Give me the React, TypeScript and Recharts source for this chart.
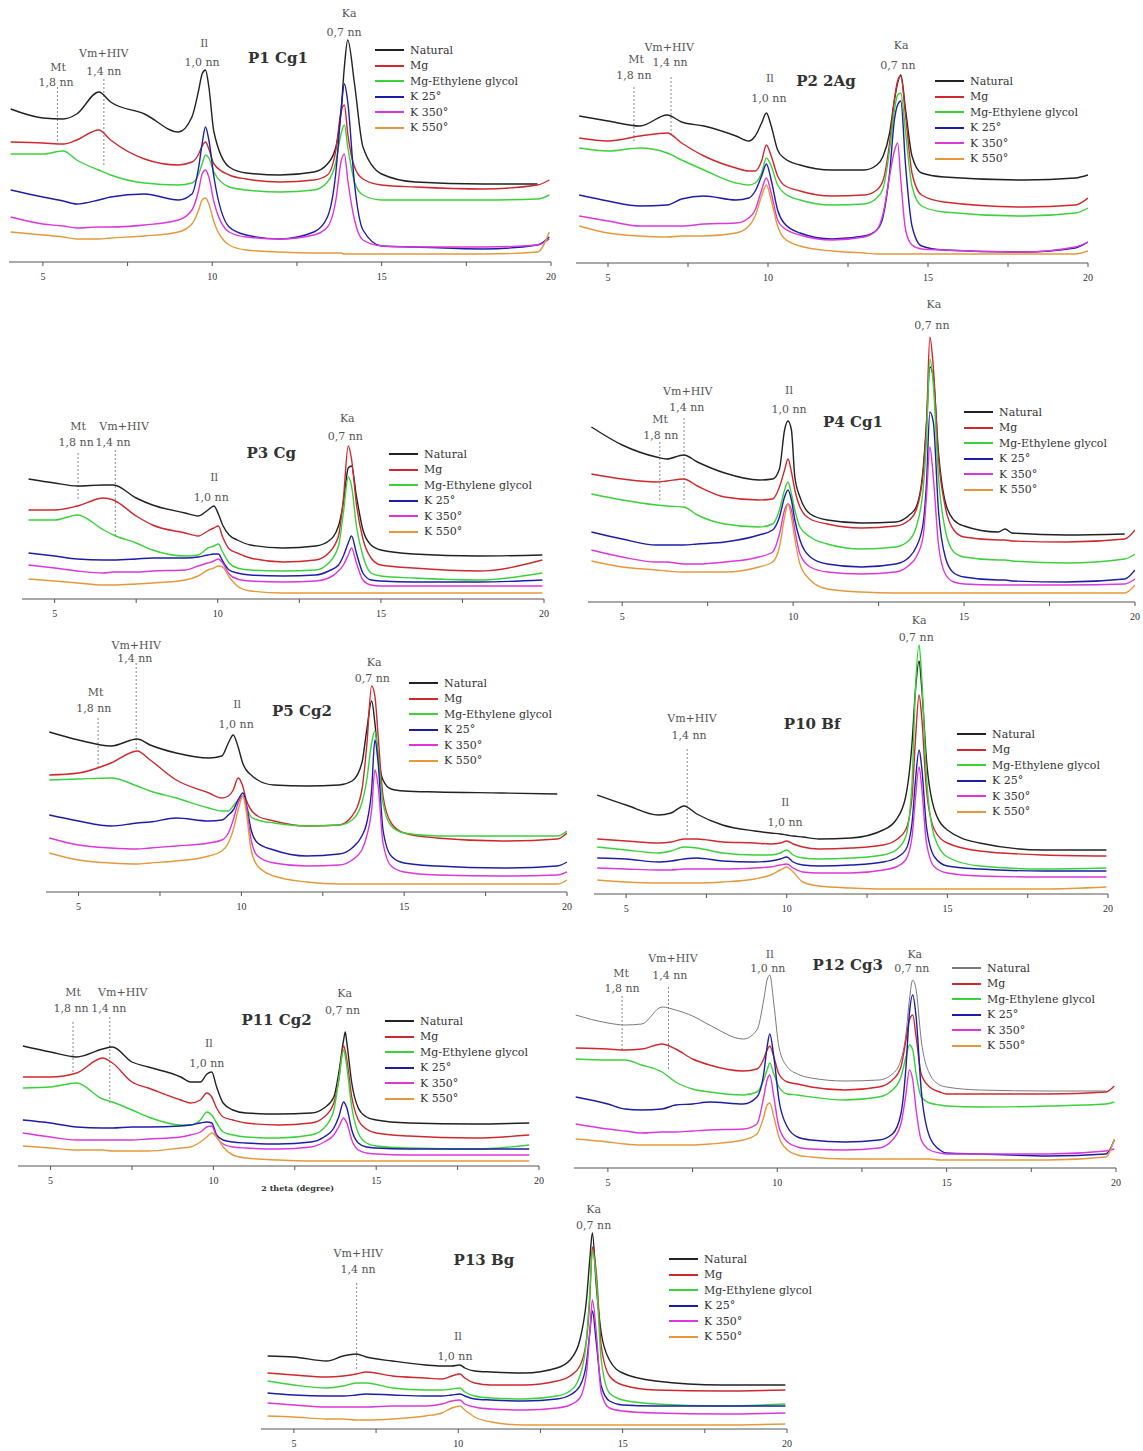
import React from "react";
import { LineChart, Line, XAxis, YAxis, ReferenceLine, ReferenceDot, Legend } from "recharts";

// Series order is the same in every panel
const SERIES_NAMES = ["Natural", "Mg", "Mg-Ethylene glycol", "K 25°", "K 350°", "K 550°"];
const SERIES_COLORS = ["#222222", "#d0282d", "#3ad23a", "#1d1da8", "#dc36dc", "#e5993c"];
const AXIS_TICKS = [5, 7.5, 10, 12.5, 15, 17.5, 20];
const FONT = '"DejaVu Serif", "Liberation Serif", serif';
const TICK_FONT = '"Liberation Serif", serif';

// Intensities are read as heights (px) above each panel's baseline

// P1 Cg1
const p1X = [4.05, 5, 5.6, 6, 6.65, 7, 8, 9, 9.4, 9.6, 9.7, 9.8, 9.9, 10.05, 10.5, 11, 12, 13, 13.4, 13.65, 13.8, 13.9, 14.0, 14.2, 14.45, 15, 16, 18, 19.6, 19.95];
const p1Natural = [153, 144, 143, 148, 170, 160, 148, 130, 145, 172, 188, 192, 175, 130, 95, 89, 87, 90, 98, 115, 150, 195, 222, 178, 115, 88, 80, 78, 78, null];
const p1Mg = [120, 119, 118, 122, 132, 122, 103, 97, 100, 108, 116, 120, 113, 98, 87, 83, 80, 82, 87, 112, 150, 157, 128, 95, 83, 77, 75, 73, 77, 82];
const p1MgEG = [108, 108, 111, 102, 92, 87, 79, 77, 79, 88, 98, 107, 104, 90, 75, 72, 70, 72, 80, 100, 128, 137, 115, 80, 67, 62, 62, 62, 63, 67];
const p1K25 = [72, 65, 61, 58, 62, 65, 68, 62, 68, 95, 118, 135, 122, 85, 35, 27, 23, 30, 45, 90, 150, 178, 160, 78, 32, 16, 15, 13, 17, 25];
const p1K350 = [45, 38, 36, 34, 35, 35, 37, 42, 52, 72, 88, 92, 85, 60, 30, 25, 23, 27, 35, 62, 100, 108, 82, 42, 22, 16, 15, 15, 17, 23];
const p1K550 = [30, 27, 25, 23, 23, 24, 26, 30, 38, 52, 62, 64, 58, 40, 17, 12, 10, 9, 9, 9, 9, 8, 8, 8, 8, 8, 8, 8, 10, 30];

// P2 2Ag
const p2X = [4.1, 5, 6, 6.85, 7.3, 8, 9, 9.4, 9.6, 9.8, 9.95, 10.1, 10.3, 10.5, 11, 12, 13, 13.4, 13.6, 13.8, 13.95, 14.05, 14.15, 14.3, 14.5, 14.8, 15.5, 18, 19.6, 20];
const p2Natural = [147, 142, 137, 148, 141, 137, 127, 122, 127, 140, 150, 137, 113, 105, 98, 93, 93, 98, 107, 130, 163, 180, 188, 153, 107, 90, 86, 83, 85, 88];
const p2Mg = [125, 122, 127, 130, 120, 107, 95, 92, 92, 102, 118, 107, 87, 78, 72, 67, 68, 73, 83, 120, 163, 182, 187, 147, 90, 68, 61, 56, 58, 65];
const p2MgEG = [115, 112, 115, 110, 103, 93, 80, 78, 80, 90, 105, 97, 78, 70, 63, 58, 59, 65, 75, 113, 153, 168, 170, 130, 77, 57, 51, 47, 50, 55];
const p2K25 = [68, 62, 57, 58, 64, 67, 63, 65, 72, 87, 99, 83, 53, 40, 30, 24, 27, 33, 47, 90, 143, 158, 162, 97, 37, 17, 13, 11, 15, 21];
const p2K350 = [47, 42, 37, 37, 37, 39, 40, 45, 53, 73, 85, 70, 43, 35, 28, 23, 26, 33, 50, 87, 112, 120, 83, 33, 18, 14, 13, 11, 16, 21];
const p2K550 = [37, 30, 27, 26, 27, 27, 30, 37, 47, 67, 78, 63, 37, 25, 17, 12, 10, 9, 9, 9, 9, 9, 9, 9, 9, 9, 9, 9, 9, 12];

// P3 Cg
const p3X = [4.2, 5, 5.7, 6.5, 6.8, 7.5, 8, 9, 9.4, 9.7, 9.88, 10.02, 10.15, 10.35, 10.6, 11, 12, 13, 13.4, 13.7, 13.85, 14.0, 14.1, 14.25, 14.45, 14.7, 15, 16, 18, 19.95];
const p3Natural = [120, 116, 113, 114, 114, 101, 94, 86, 83, 89, 93, 85, 74, 64, 59, 54, 51, 53, 58, 73, 96, 131, 133, 103, 69, 54, 49, 45, 43, 44];
const p3Mg = [89, 89, 93, 101, 99, 83, 74, 66, 63, 68, 71, 73, 62, 50, 46, 41, 37, 39, 46, 63, 100, 153, 140, 95, 60, 41, 34, 31, 28, 39];
const p3MgEG = [79, 79, 84, 69, 64, 56, 49, 43, 44, 51, 53, 55, 47, 36, 31, 29, 28, 29, 36, 53, 86, 122, 113, 73, 43, 26, 23, 21, 19, 26];
const p3K25 = [46, 43, 40, 39, 39, 40, 41, 41, 42, 44, 45, 45, 38, 29, 26, 24, 23, 24, 28, 34, 43, 56, 63, 46, 26, 19, 18, 17, 17, 19];
const p3K350 = [34, 31, 28, 26, 27, 27, 28, 29, 33, 36, 38, 40, 36, 25, 20, 18, 17, 18, 21, 28, 34, 44, 51, 36, 19, 14, 13, 13, 13, 13];
const p3K550 = [20, 18, 16, 14, 14, 15, 16, 19, 23, 29, 31, 33, 32, 22, 13, 8, 6, 6, 6, 6, 6, 6, 6, 6, 6, 6, 6, 6, 6, 6];

// P4 Cg1
const p4X = [4.1, 5, 6, 6.3, 6.8, 7.2, 8, 9, 9.4, 9.6, 9.75, 9.85, 9.95, 10.05, 10.2, 10.5, 11, 12, 13, 13.4, 13.6, 13.8, 13.9, 14.0, 14.1, 14.25, 14.45, 14.7, 15, 16, 16.2, 16.4, 18, 19.7, 20];
const p4Natural = [175, 157, 145, 143, 147, 140, 129, 122, 123, 133, 172, 181, 172, 125, 105, 88, 82, 79, 80, 87, 95, 132, 178, 235, 225, 150, 100, 82, 76, 70, 73, 69, 67, 68, null];
const p4Mg = [128, 123, 120, 121, 123, 116, 105, 102, 103, 115, 132, 143, 130, 112, 95, 83, 78, 74, 76, 82, 92, 128, 178, 265, 235, 145, 95, 72, 65, 62, 62, 61, 60, 63, 72];
const p4MgEG = [108, 102, 97, 96, 95, 87, 78, 75, 78, 92, 112, 120, 108, 92, 75, 65, 58, 53, 55, 62, 75, 112, 162, 243, 218, 125, 72, 50, 45, 42, 42, 41, 39, 43, 48];
const p4K25 = [70, 63, 57, 57, 57, 58, 60, 67, 72, 85, 105, 112, 102, 82, 62, 45, 38, 35, 38, 45, 55, 78, 118, 190, 180, 92, 45, 29, 25, 22, 22, 21, 20, 23, 32];
const p4K350 = [52, 45, 40, 40, 38, 38, 40, 45, 50, 68, 92, 98, 92, 72, 48, 35, 30, 28, 30, 37, 45, 65, 105, 155, 125, 58, 28, 20, 18, 17, 17, 17, 17, 18, 23];
const p4K550 = [41, 35, 32, 31, 30, 30, 30, 35, 40, 55, 85, 98, 85, 63, 38, 22, 13, 10, 9, 9, 9, 9, 9, 9, 9, 9, 9, 9, 9, 9, 9, 9, 9, 9, 17];

// P5 Cg2
const p5X = [4.1, 5, 6, 6.8, 7.2, 8, 9, 9.4, 9.6, 9.75, 9.9, 10.05, 10.15, 10.3, 10.5, 11, 12, 13, 13.4, 13.7, 13.85, 14.0, 14.1, 14.2, 14.35, 14.6, 15, 16, 18, 19.7, 20];
const p5Natural = [160, 152, 146, 153, 147, 139, 134, 136, 149, 157, 145, 128, 122, 117, 112, 107, 106, 107, 111, 129, 162, 191, 169, 136, 112, 103, 101, 100, 99, 98, null];
const p5Mg = [117, 119, 129, 141, 132, 112, 99, 94, 96, 102, 114, 105, 92, 82, 76, 71, 66, 67, 76, 102, 146, 206, 196, 156, 96, 69, 59, 54, 51, 53, 59];
const p5MgEG = [112, 113, 114, 106, 101, 94, 84, 81, 81, 86, 92, 96, 86, 75, 72, 69, 66, 67, 72, 89, 112, 149, 161, 136, 89, 66, 59, 56, 56, 56, 61];
const p5K25 = [77, 71, 66, 69, 70, 74, 71, 72, 77, 82, 92, 99, 88, 62, 49, 42, 36, 38, 44, 56, 69, 102, 152, 129, 62, 36, 29, 26, 24, 26, 30];
const p5K350 = [54, 47, 44, 43, 44, 46, 49, 52, 59, 72, 89, 96, 86, 52, 36, 29, 26, 27, 32, 42, 56, 82, 122, 106, 49, 26, 20, 17, 16, 17, 20];
const p5K550 = [39, 32, 29, 28, 29, 31, 36, 41, 49, 62, 82, 96, 80, 42, 26, 16, 10, 8, 8, 8, 8, 8, 8, 8, 8, 8, 8, 8, 8, 8, 12];

// P10 Bf
const p10X = [4.1, 5, 6, 6.4, 6.8, 7.2, 8, 9, 9.5, 9.8, 10.0, 10.2, 10.5, 11, 12, 13, 13.4, 13.7, 13.9, 14.0, 14.12, 14.2, 14.35, 14.6, 15, 16, 18, 19.95];
const p10Natural = [99, 89, 79, 81, 88, 80, 69, 63, 61, 60, 59, 58, 57, 55, 56, 64, 74, 97, 151, 201, 233, 207, 134, 84, 64, 51, 44, 44];
const p10Mg = [55, 53, 51, 52, 55, 55, 52, 51, 50, 51, 53, 50, 47, 45, 46, 49, 54, 64, 97, 151, 199, 177, 104, 64, 51, 43, 39, 38];
const p10MgEG = [47, 44, 41, 43, 47, 46, 41, 39, 39, 41, 44, 39, 36, 35, 36, 39, 44, 57, 111, 201, 249, 217, 117, 57, 37, 28, 25, 26];
const p10K25 = [36, 35, 32, 33, 35, 36, 33, 32, 33, 35, 37, 32, 29, 28, 29, 32, 36, 44, 71, 111, 144, 127, 67, 37, 28, 25, 23, 23];
const p10K350 = [26, 25, 24, 24, 25, 25, 25, 26, 27, 29, 30, 26, 22, 21, 21, 24, 27, 34, 57, 94, 127, 107, 51, 27, 21, 18, 17, 17];
const p10K550 = [14, 12, 11, 11, 11, 11, 12, 15, 19, 24, 27, 22, 12, 8, 6, 5, 5, 5, 5, 5, 5, 5, 5, 5, 5, 5, 5, 7];

// P11 Cg2
const p11X = [4.15, 5, 5.8, 6.6, 6.9, 7.5, 8, 9, 9.3, 9.6, 9.8, 9.95, 10.1, 10.3, 10.6, 11, 12, 13, 13.4, 13.7, 13.85, 14.0, 14.05, 14.1, 14.25, 14.45, 14.7, 15, 16, 18, 19.7];
const p11Natural = [120, 114, 109, 117, 119, 104, 99, 89, 84, 84, 92, 94, 79, 63, 56, 53, 52, 53, 58, 69, 93, 126, 134, 123, 83, 58, 49, 46, 43, 42, 43];
const p11Mg = [89, 89, 93, 108, 103, 84, 78, 66, 63, 66, 73, 69, 58, 49, 46, 43, 41, 43, 49, 63, 86, 120, 115, 106, 69, 46, 37, 33, 30, 28, 31];
const p11MgEG = [78, 79, 83, 67, 64, 56, 49, 41, 41, 46, 54, 51, 43, 34, 31, 29, 28, 31, 38, 56, 86, 116, 110, 99, 59, 33, 23, 20, 18, 17, 21];
const p11K25 = [46, 43, 39, 38, 38, 39, 39, 40, 41, 43, 44, 43, 31, 26, 24, 23, 22, 24, 29, 38, 49, 64, 62, 58, 36, 23, 19, 18, 17, 17, 17];
const p11K350 = [33, 29, 26, 26, 26, 26, 27, 29, 31, 34, 39, 40, 29, 22, 19, 18, 17, 19, 24, 31, 39, 48, 46, 43, 26, 16, 13, 12, 11, 11, 11];
const p11K550 = [20, 18, 16, 16, 15, 15, 15, 18, 19, 24, 29, 33, 29, 19, 11, 8, 6, 5, 5, 5, 5, 5, 5, 5, 5, 5, 5, 5, 5, 5, 5];

// P12 Cg3
const p12X = [4.05, 5, 5.5, 6, 6.6, 7, 7.5, 8, 9, 9.4, 9.6, 9.7, 9.78, 9.9, 10.05, 10.3, 10.6, 11, 12, 13, 13.4, 13.65, 13.8, 13.9, 14.0, 14.1, 14.25, 14.5, 14.8, 15, 16, 18, 19.7, 19.95];
const p12Natural = [153, 145, 143, 144, 161, 158, 152, 143, 129, 138, 168, 188, 193, 164, 121, 101, 94, 90, 87, 88, 94, 108, 134, 168, 188, 178, 128, 94, 83, 81, 78, 77, 77, null];
const p12Mg = [120, 119, 118, 119, 124, 119, 109, 103, 97, 99, 109, 118, 122, 111, 94, 86, 84, 81, 78, 81, 88, 101, 128, 148, 153, 131, 94, 81, 76, 74, 74, 74, 76, 82];
const p12MgEG = [109, 108, 108, 103, 96, 86, 79, 76, 73, 76, 88, 98, 105, 94, 81, 74, 73, 71, 68, 71, 78, 91, 111, 123, 118, 94, 71, 65, 63, 62, 61, 62, 64, 66];
const p12K25 = [71, 64, 59, 58, 59, 63, 64, 66, 64, 71, 94, 121, 134, 111, 68, 41, 31, 28, 26, 28, 34, 54, 101, 154, 173, 151, 78, 31, 18, 15, 14, 12, 14, 28];
const p12K350 = [44, 39, 37, 35, 36, 36, 37, 38, 39, 44, 71, 88, 93, 71, 41, 26, 21, 19, 18, 20, 28, 44, 74, 98, 88, 58, 28, 18, 15, 14, 14, 14, 17, 19];
const p12K550 = [29, 26, 24, 23, 23, 23, 23, 24, 28, 34, 51, 63, 65, 51, 31, 18, 13, 11, 9, 9, 9, 9, 9, 9, 9, 9, 9, 9, 8, 8, 8, 8, 11, 29];

// P13 Bg
const p13X = [4.2, 5, 6, 6.5, 6.9, 7.2, 8, 9, 9.5, 9.8, 10.05, 10.2, 10.5, 11, 12, 13, 13.4, 13.7, 13.9, 14.0, 14.08, 14.2, 14.35, 14.6, 15, 16, 18, 19.95];
const p13Natural = [73, 72, 68, 73, 75, 72, 68, 64, 63, 63, 64, 61, 58, 57, 56, 61, 69, 89, 129, 169, 196, 143, 96, 69, 56, 48, 44, 44];
const p13Mg = [56, 54, 52, 53, 55, 57, 53, 51, 50, 53, 55, 51, 46, 44, 44, 48, 53, 63, 89, 129, 182, 156, 83, 53, 44, 39, 38, 39];
const p13MgEG = [48, 44, 41, 43, 46, 46, 41, 39, 39, 40, 41, 37, 33, 31, 30, 33, 38, 53, 89, 136, 178, 149, 69, 36, 29, 25, 23, 25];
const p13K25 = [36, 34, 33, 33, 34, 35, 34, 33, 33, 34, 35, 33, 30, 29, 28, 30, 34, 43, 66, 96, 118, 86, 43, 28, 24, 23, 23, 23];
const p13K350 = [26, 24, 22, 22, 22, 22, 23, 23, 25, 28, 29, 25, 22, 20, 19, 21, 24, 31, 56, 96, 129, 96, 36, 21, 18, 16, 15, 16];
const p13K550 = [13, 12, 10, 10, 9, 9, 10, 13, 16, 21, 23, 19, 12, 7, 4, 4, 4, 4, 4, 4, 4, 4, 4, 4, 4, 4, 4, 5];

type Note = { x: number; y: number; text: string };
type Guide = { x: number; y1: number; y2: number };
type PanelDef = {
  title: string;
  titleAt: [number, number];
  x: number[];
  series: (number | null)[][];
  x4: number;
  x20: number;
  axisY: number;
  topY: number;
  legendX: number;
  legendY: number;
  notes: Note[];
  guides: Guide[];
  naturalColor?: string;
  xTitle?: Note;
};

const PANELS: PanelDef[] = [
  {
    title: "P1 Cg1", titleAt: [11.94, 204], x: p1X,
    series: [p1Natural, p1Mg, p1MgEG, p1K25, p1K350, p1K550],
    x4: 9, x20: 551, axisY: 262, topY: 0, legendX: 375, legendY: 50,
    notes: [
      { x: 5.45, y: 195, text: "Mt" }, { x: 5.39, y: 180, text: "1,8 nn" },
      { x: 6.8, y: 209, text: "Vm+HIV" }, { x: 6.8, y: 191, text: "1,4 nn" },
      { x: 9.76, y: 219, text: "Il" }, { x: 9.7, y: 200, text: "1,0 nn" },
      { x: 14.04, y: 249, text: "Ka" }, { x: 13.89, y: 230, text: "0,7 nn" },
    ],
    guides: [{ x: 5.43, y1: 175, y2: 119 }, { x: 6.8, y1: 183, y2: 96 }],
  },
  {
    title: "P2 2Ag", titleAt: [11.81, 182], x: p2X,
    series: [p2Natural, p2Mg, p2MgEG, p2K25, p2K350, p2K550],
    x4: 576, x20: 1088, axisY: 263, topY: 20, legendX: 935, legendY: 81,
    notes: [
      { x: 5.88, y: 204, text: "Mt" }, { x: 5.81, y: 188, text: "1,8 nn" },
      { x: 6.91, y: 216, text: "Vm+HIV" }, { x: 6.94, y: 201, text: "1,4 nn" },
      { x: 10.06, y: 185, text: "Il" }, { x: 10.03, y: 165, text: "1,0 nn" },
      { x: 14.16, y: 218, text: "Ka" }, { x: 14.06, y: 198, text: "0,7 nn" },
    ],
    guides: [{ x: 5.81, y1: 176, y2: 120 }, { x: 6.97, y1: 186, y2: 128 }],
  },
  {
    title: "P3 Cg", titleAt: [11.64, 146], x: p3X,
    series: [p3Natural, p3Mg, p3MgEG, p3K25, p3K350, p3K550],
    x4: 22, x20: 544, axisY: 599, topY: 400, legendX: 389, legendY: 454,
    notes: [
      { x: 5.72, y: 173, text: "Mt" }, { x: 5.66, y: 157, text: "1,8 nn" },
      { x: 7.13, y: 173, text: "Vm+HIV" }, { x: 6.79, y: 157, text: "1,4 nn" },
      { x: 9.89, y: 122, text: "Il" }, { x: 9.8, y: 102, text: "1,0 nn" },
      { x: 13.97, y: 181, text: "Ka" }, { x: 13.91, y: 163, text: "0,7 nn" },
    ],
    guides: [{ x: 5.72, y1: 146, y2: 99 }, { x: 6.86, y1: 149, y2: 62 }],
  },
  {
    title: "P4 Cg1", titleAt: [11.75, 180], x: p4X,
    series: [p4Natural, p4Mg, p4MgEG, p4K25, p4K350, p4K550],
    x4: 588, x20: 1135, axisY: 602, topY: 290, legendX: 964, legendY: 412,
    notes: [
      { x: 6.11, y: 183, text: "Mt" }, { x: 6.13, y: 167, text: "1,8 nn" },
      { x: 6.92, y: 211, text: "Vm+HIV" }, { x: 6.89, y: 195, text: "1,4 nn" },
      { x: 9.88, y: 212, text: "Il" }, { x: 9.88, y: 193, text: "1,0 nn" },
      { x: 14.12, y: 298, text: "Ka" }, { x: 14.06, y: 277, text: "0,7 nn" },
    ],
    guides: [{ x: 6.1, y1: 160, y2: 100 }, { x: 6.81, y1: 184, y2: 99 }],
  },
  {
    title: "P5 Cg2", titleAt: [11.86, 181], x: p5X,
    series: [p5Natural, p5Mg, p5MgEG, p5K25, p5K350, p5K550],
    x4: 46, x20: 567, axisY: 892, topY: 630, legendX: 409, legendY: 683,
    notes: [
      { x: 5.52, y: 200, text: "Mt" }, { x: 5.47, y: 184, text: "1,8 nn" },
      { x: 6.77, y: 247, text: "Vm+HIV" }, { x: 6.73, y: 234, text: "1,4 nn" },
      { x: 9.87, y: 188, text: "Il" }, { x: 9.84, y: 168, text: "1,0 nn" },
      { x: 14.08, y: 230, text: "Ka" }, { x: 14.02, y: 214, text: "0,7 nn" },
    ],
    guides: [{ x: 5.6, y1: 174, y2: 124 }, { x: 6.77, y1: 229, y2: 142 }],
  },
  {
    title: "P10 Bf", titleAt: [10.79, 170], x: p10X,
    series: [p10Natural, p10Mg, p10MgEG, p10K25, p10K350, p10K550],
    x4: 594, x20: 1108, axisY: 894, topY: 605, legendX: 957, legendY: 734,
    notes: [
      { x: 7.05, y: 176, text: "Vm+HIV" }, { x: 6.96, y: 159, text: "1,4 nn" },
      { x: 9.95, y: 92, text: "Il" }, { x: 9.95, y: 72, text: "1,0 nn" },
      { x: 14.12, y: 274, text: "Ka" }, { x: 14.03, y: 257, text: "0,7 nn" },
    ],
    guides: [{ x: 6.9, y1: 145, y2: 59 }],
  },
  {
    title: "P11 Cg2", titleAt: [11.94, 146], x: p11X,
    series: [p11Natural, p11Mg, p11MgEG, p11K25, p11K350, p11K550],
    x4: 18, x20: 539, axisY: 1166, topY: 960, legendX: 385, legendY: 1021,
    notes: [
      { x: 5.69, y: 174, text: "Mt" }, { x: 5.63, y: 158, text: "1,8 nn" },
      { x: 7.22, y: 174, text: "Vm+HIV" }, { x: 6.79, y: 158, text: "1,4 nn" },
      { x: 9.86, y: 123, text: "Il" }, { x: 9.8, y: 103, text: "1,0 nn" },
      { x: 14.03, y: 173, text: "Ka" }, { x: 13.97, y: 156, text: "0,7 nn" },
    ],
    guides: [{ x: 5.69, y1: 144, y2: 94 }, { x: 6.82, y1: 149, y2: 63 }],
    xTitle: { x: 12.59, y: -22, text: "2 theta (degree)" },
  },
  {
    title: "P12 Cg3", titleAt: [12.08, 203], x: p12X,
    series: [p12Natural, p12Mg, p12MgEG, p12K25, p12K350, p12K550],
    x4: 574, x20: 1116, axisY: 1168, topY: 940, legendX: 952, legendY: 968,
    notes: [
      { x: 5.39, y: 195, text: "Mt" }, { x: 5.42, y: 180, text: "1,8 nn" },
      { x: 6.92, y: 210, text: "Vm+HIV" }, { x: 6.83, y: 193, text: "1,4 nn" },
      { x: 9.78, y: 214, text: "Il" }, { x: 9.72, y: 200, text: "1,0 nn" },
      { x: 14.06, y: 214, text: "Ka" }, { x: 13.97, y: 200, text: "0,7 nn" },
    ],
    guides: [{ x: 5.42, y1: 172, y2: 116 }, { x: 6.79, y1: 181, y2: 98 }],
    naturalColor: "#7a7a7a",
  },
  {
    title: "P13 Bg", titleAt: [10.78, 169], x: p13X,
    series: [p13Natural, p13Mg, p13MgEG, p13K25, p13K350, p13K550],
    x4: 261, x20: 787, axisY: 1429, topY: 1195, legendX: 669, legendY: 1259,
    notes: [
      { x: 6.96, y: 176, text: "Vm+HIV" }, { x: 6.95, y: 160, text: "1,4 nn" },
      { x: 9.99, y: 93, text: "Il" }, { x: 9.9, y: 73, text: "1,0 nn" },
      { x: 14.12, y: 220, text: "Ka" }, { x: 14.12, y: 204, text: "0,7 nn" },
    ],
    guides: [{ x: 6.91, y1: 146, y2: 59 }],
  },
];

const ML = 20;
const MR = 30;
const XH = 30;
const ROW = 15.5;

function textLabel(text: string, size: number, weight: string, fill: string) {
  return (props: any) => {
    const vb = props.viewBox || {};
    const cx = (vb.x || 0) + (vb.width || 0) / 2;
    const cy = (vb.y || 0) + (vb.height || 0) / 2;
    return (
      <text x={cx} y={cy} textAnchor="middle" dominantBaseline="central" fontSize={size}
        fontWeight={weight} fill={fill} fontFamily={FONT}>
        {text}
      </text>
    );
  };
}

function LegendBox({ payload }: { payload?: any[] }) {
  const items = [...(payload || [])].sort((a, b) => String(a.dataKey).localeCompare(String(b.dataKey)));
  return (
    <div style={{ fontFamily: FONT, fontSize: 11, color: "#333" }}>
      {items.map((it) => (
        <div key={it.dataKey} style={{ display: "flex", alignItems: "center", height: ROW, whiteSpace: "nowrap" }}>
          <span style={{ width: 29, borderTop: `2px solid ${it.color}`, marginRight: 6 }} />
          <span>{it.value}</span>
        </div>
      ))}
    </div>
  );
}

function Panel({ p }: { p: PanelDef }) {
  const ph = p.axisY - p.topY;
  const left = p.x4 - ML;
  const rows = p.x.map((x, i) => {
    const r: Record<string, number | null> = { x };
    p.series.forEach((s, k) => {
      r["s" + k] = s[i];
    });
    return r;
  });
  const colors = SERIES_COLORS.map((c, i) => (i === 0 && p.naturalColor ? p.naturalColor : c));

  return (
    <div style={{ position: "absolute", left, top: p.topY }}>
      <LineChart width={p.x20 - p.x4 + ML + MR} height={ph + XH} data={rows}
        margin={{ top: 0, right: MR, bottom: 0, left: ML }}>
        <XAxis type="number" dataKey="x" domain={[4, 20]} ticks={AXIS_TICKS} interval={0}
          allowDataOverflow height={XH} stroke="#555" tickSize={4} tickMargin={7}
          tickFormatter={(v: number) => (v % 5 === 0 ? String(v) : "")}
          tick={{ fontSize: 10, fill: "#333", fontFamily: TICK_FONT }} />
        <YAxis hide type="number" domain={[0, ph]} allowDataOverflow />
        {p.guides.map((g, i) => (
          <ReferenceLine key={"g" + i} ifOverflow="visible"
            segment={[{ x: g.x, y: g.y1 }, { x: g.x, y: g.y2 }]}
            stroke="#8a8a8a" strokeWidth={1} strokeDasharray="2 2" />
        ))}
        {p.series.map((_, k) => (
          <Line key={k} dataKey={"s" + k} name={SERIES_NAMES[k]} type="monotone"
            stroke={colors[k]} strokeWidth={k === 0 && p.naturalColor ? 1 : 1.4}
            dot={false} activeDot={false} isAnimationActive={false} />
        ))}
        {p.notes.map((n, i) => (
          <ReferenceDot key={"n" + i} x={n.x} y={n.y} r={1} fill="none" stroke="none"
            ifOverflow="visible" label={textLabel(n.text, 11, "normal", "#555")} />
        ))}
        <ReferenceDot x={p.titleAt[0]} y={p.titleAt[1]} r={1} fill="none" stroke="none"
          ifOverflow="visible" label={textLabel(p.title, 15, "bold", "#333")} />
        {p.xTitle && (
          <ReferenceDot x={p.xTitle.x} y={p.xTitle.y} r={1} fill="none" stroke="none"
            ifOverflow="visible" label={textLabel(p.xTitle.text, 8, "bold", "#333")} />
        )}
        <Legend layout="horizontal" verticalAlign="middle" align="center"
          wrapperStyle={{ left: p.legendX - left, top: p.legendY - p.topY - ROW / 2, width: 170 }}
          content={(props: any) => <LegendBox payload={props.payload} />} />
      </LineChart>
    </div>
  );
}

export default function App() {
  return (
    <div style={{ position: "absolute", left: 0, top: 0, width: 1143, height: 1451, overflow: "hidden",
      background: "#fff", fontFamily: FONT }}>
      {PANELS.map((p) => (
        <Panel key={p.title} p={p} />
      ))}
    </div>
  );
}
